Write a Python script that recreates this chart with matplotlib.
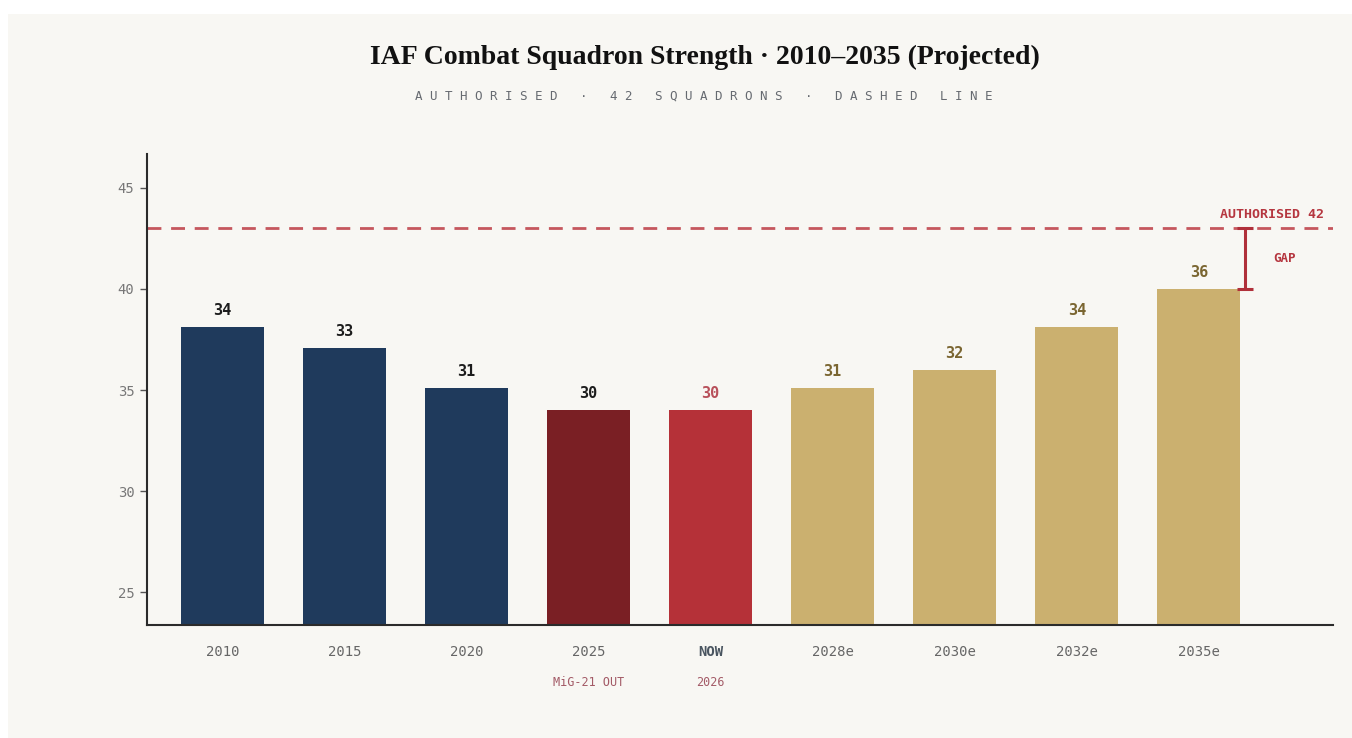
import matplotlib
matplotlib.use("Agg")
import matplotlib.pyplot as plt
from matplotlib.patches import Rectangle
import matplotlib.transforms as mtransforms

# ---- data ----
categories = ["2010", "2015", "2020", "2025", "NOW", "2028e", "2030e", "2032e", "2035e"]
sub_labels = ["", "", "", "MiG-21 OUT", "2026", "", "", "", ""]
bar_heights = [38.1, 37.1, 35.1, 34.0, 34.0, 35.1, 36.0, 38.1, 40.0]
value_labels = [34, 33, 31, 30, 30, 31, 32, 34, 36]
authorised_line = 43.0
authorised_text = "AUTHORISED 42"
yticks = [25, 30, 35, 40, 45]

# ---- styles ----
NAVY = "#1f3a5c"
DARKRED = "#7a1f24"
RED = "#b53138"
GOLD = "#cbb06f"
bar_colors = [NAVY, NAVY, NAVY, DARKRED, RED, GOLD, GOLD, GOLD, GOLD]
label_colors = ["#1c1c1c", "#1c1c1c", "#1c1c1c", "#1c1c1c", "#b8505a",
                "#7a6530", "#7a6530", "#7a6530", "#7a6530"]
PANEL = "#f8f7f3"
MONO = "DejaVu Sans Mono"

fig = plt.figure(figsize=(13.52, 7.38), dpi=100, facecolor="white")
fig.patches.append(Rectangle((8 / 1352, 0), 1 - 8 / 1352, 1 - 14 / 738,
                             transform=fig.transFigure, facecolor=PANEL,
                             edgecolor="none", zorder=-10))

ax = fig.add_axes([147 / 1352, 1 - 625 / 738, (1333 - 147) / 1352, (625 - 154) / 738])
ax.set_facecolor("none")

x = list(range(len(categories)))
ax.bar(x, bar_heights, width=0.68, color=bar_colors, zorder=2)

ax.set_xlim(-0.62, 9.1)
ax.set_ylim(23.37, 46.68)

for xi, h, lab, c in zip(x, bar_heights, value_labels, label_colors):
    ax.annotate(str(lab), (xi, h), xytext=(0, 6.5), textcoords="offset points",
                ha="center", va="bottom", fontsize=11, fontweight="bold",
                family=MONO, color=c)

# authorised line
ax.axhline(authorised_line, color="#c0454d", lw=2.0, ls=(0, (5, 3.5)), alpha=0.9, zorder=1)
ax.text(9.03, authorised_line + 0.35, authorised_text, ha="right", va="bottom",
        fontsize=9.5, fontweight="bold", family=MONO, color="#b5363f")

# gap bracket
gx = 8.377
ax.plot([gx, gx], [bar_heights[-1], authorised_line], color="#b0303a", lw=2.2,
        solid_capstyle="butt", zorder=3)
for yy in (bar_heights[-1], authorised_line):
    ax.plot([gx - 0.066, gx + 0.066], [yy, yy], color="#b0303a", lw=2.2,
            solid_capstyle="butt", zorder=3)
ax.text(8.70, (bar_heights[-1] + authorised_line) / 2 + 0.03, "GAP", ha="center",
        va="center", fontsize=9, fontweight="bold", family=MONO, color="#b5363f")

# axes styling
for s in ("top", "right"):
    ax.spines[s].set_visible(False)
for s in ("left", "bottom"):
    ax.spines[s].set_color("#2b2b2b")
    ax.spines[s].set_linewidth(1.5)
ax.set_yticks(yticks)
ax.set_yticklabels([str(t) for t in yticks], family=MONO, fontsize=10, color="#777777")
ax.tick_params(axis="y", length=5, width=1, color="#555555", pad=4)
ax.set_xticks(x)
ax.set_xticklabels(categories, family=MONO, fontsize=10, color="#666666")
ax.tick_params(axis="x", length=0, pad=14.5)
for lbl, cat in zip(ax.get_xticklabels(), categories):
    if cat == "NOW":
        lbl.set_fontweight("bold")
        lbl.set_color("#4a5560")

trans = mtransforms.blended_transform_factory(ax.transData, fig.transFigure)
for xi, sl in zip(x, sub_labels):
    if sl:
        ax.text(xi, 1 - 682 / 738, sl, transform=trans, ha="center", va="center",
                fontsize=8.5, family=MONO, color="#a35a66")

# titles
fig.text(705 / 1352, 1 - 57 / 738, "IAF Combat Squadron Strength · 2010–2035 (Projected)",
         ha="center", va="center", fontsize=20, fontweight="bold",
         family="Liberation Serif", color="#111111")
sub = "AUTHORISED · 42 SQUADRONS · DASHED LINE"
fig.text(704 / 1352, 1 - 96 / 738, " ".join(sub), ha="center", va="center",
         fontsize=9.0, family=MONO, color="#666a70")

fig.savefig("out.png", dpi=100, facecolor=fig.get_facecolor())
